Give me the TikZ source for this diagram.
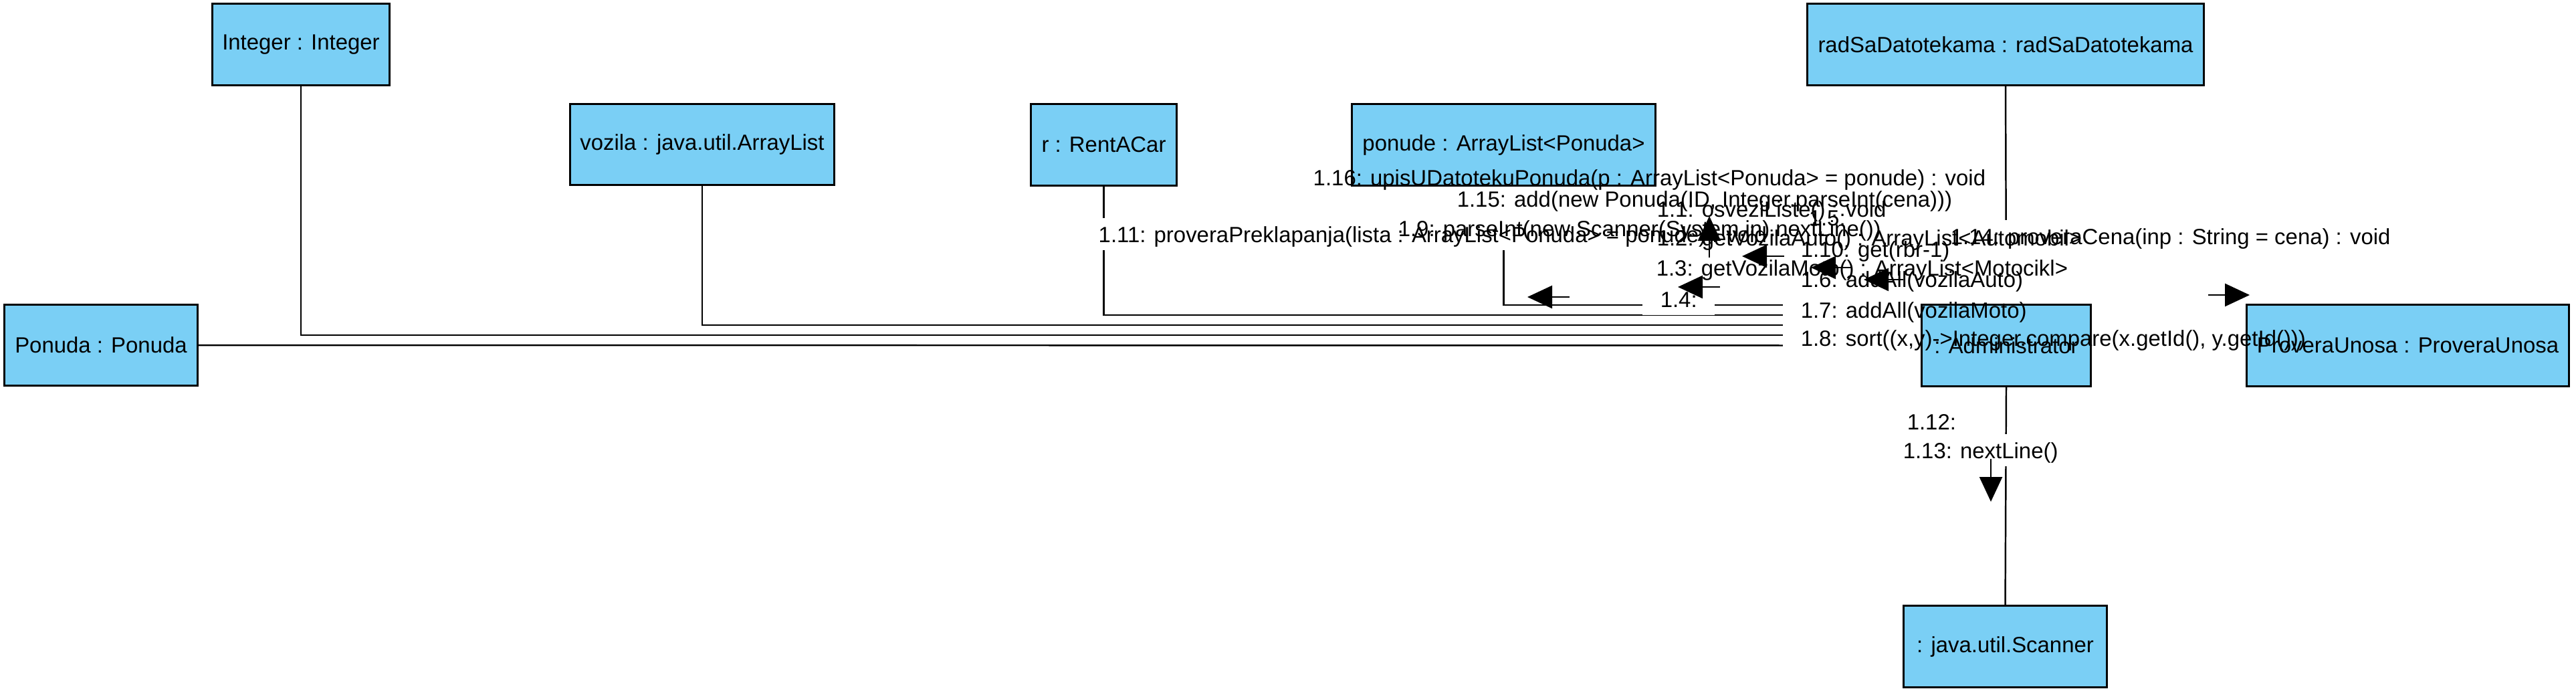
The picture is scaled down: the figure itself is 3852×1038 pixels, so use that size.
\documentclass[tikz,border=0pt]{standalone}
\usepackage{fontspec}
\setmainfont{Liberation Sans}
\usetikzlibrary{arrows.meta}
\definecolor{vpblue}{RGB}{122,207,245}
\pgfdeclarelayer{lines}
\pgfdeclarelayer{wipe}
\pgfdeclarelayer{boxes}
\pgfsetlayers{lines,wipe,boxes,main}
\begin{document}
\begin{tikzpicture}[x=0.01cm,y=-0.01cm,
  font=\fontsize{9.36pt}{11pt}\selectfont,
  obj/.style={draw=black, line width=0.85pt, fill=vpblue, inner sep=0pt, outer sep=0pt},
  link/.style={draw=black, line width=0.7pt},
  lbl/.style={anchor=west, inner xsep=0.26cm, inner ysep=0.11cm, text height=0.24cm, text depth=0cm},
  msg/.style={line width=0.7pt, -{Triangle[length=0.37cm,width=0.34cm]}}
]
\useasboundingbox (0,0) rectangle (3852,1038);

% objects
\begin{pgfonlayer}{boxes}
\node[obj, minimum width=2.64cm, minimum height=1.21cm] (int) at (450,66.5) {Integer : Integer};
\node[obj, minimum width=3.94cm, minimum height=1.20cm] (voz) at (1050,216) {vozila : java.util.ArrayList};
\node[obj, minimum width=2.17cm, minimum height=1.21cm] (rac) at (1650.5,216.5) {r : RentACar};
\node[obj, minimum width=4.53cm, minimum height=1.21cm] (pon) at (2248.5,216.5) {ponude : ArrayList<Ponuda>};
\node[obj, minimum width=5.92cm, minimum height=1.21cm] (rad) at (2999,66.5) {radSaDatotekama : radSaDatotekama};
\node[obj, minimum width=2.88cm, minimum height=1.20cm] (ponuda) at (151,516) {Ponuda : Ponuda};
\node[obj, minimum width=2.52cm, minimum height=1.21cm] (adm) at (3000,516.5) {: Administrator};
\node[obj, minimum width=4.81cm, minimum height=1.21cm] (pu) at (3600.5,516.5) {ProveraUnosa : ProveraUnosa};
\node[obj, minimum width=3.03cm, minimum height=1.21cm] (sc) at (2998.5,966.5) {: java.util.Scanner};
\end{pgfonlayer}

% links
\begin{pgfonlayer}{lines}
\draw[link] (int.south) |- (adm.west |- 0,501);
\draw[link] (voz.south) |- (adm.west |- 0,486);
\draw[link] (rac.south) |- (adm.west |- 0,471);
\draw[link] (pon.south) |- (adm.north west);
\draw[link] (ponuda.east) -- (adm.west);
\draw[link] (rad.south) -- (adm.north);
\draw[link] (adm.south) -- (sc.north);
\draw[link] (adm.east) -- (pu.west);
\end{pgfonlayer}

% message labels
\node[lbl] (l16) at (1937,265) {1.16: upisUDatotekuPonuda(p : ArrayList<Ponuda> = ponude) : void};
\node[lbl] (l15) at (2152,297) {1.15: add(new Ponuda(ID, Integer.parseInt(cena)))};
\node[lbl] (l1)  at (2451,312) {1.1: osveziListe() : void};
\node[lbl] (l5)  at (2678,325) {1.5:};
\node[lbl] (l9)  at (2064,341) {1.9: parseInt(new Scanner(System.in).nextLine())};
\node[lbl] (l11) at (1616,350) {1.11: proveraPreklapanja(lista : ArrayList<Ponuda> = ponude) : void};
\node[lbl] (l2)  at (2451,355) {1.2: getVozilaAuto() : ArrayList<Automobil>};
\node[lbl] (l14) at (2890,353) {1.14: proveraCena(inp : String = cena) : void};
\node[lbl] (l10) at (2666,372) {1.10: get(rbr-1)};
\node[lbl] (l3)  at (2450,400) {1.3: getVozilaMoto() : ArrayList<Motocikl>};
\node[lbl] (l6)  at (2666,417) {1.6: addAll(vozilaAuto)};
\node[lbl] (l4)  at (2456,447) {1.4:};
\node[lbl] (l7)  at (2666,463) {1.7: addAll(vozilaMoto)};
\node[lbl] (l8)  at (2666,505) {1.8: sort((x,y)->Integer.compare(x.getId(), y.getId()))};
\node[lbl] (l12) at (2825,630) {1.12:};
\node[lbl] (l13) at (2819,673) {1.13: nextLine()};

\begin{pgfonlayer}{wipe}
\foreach \n in {l16,l15,l1,l5,l9,l11,l2,l14,l10,l3,l6,l4,l7,l8,l12,l13}
  \fill[white] (\n.south west) rectangle (\n.north east);
\end{pgfonlayer}

% message arrows
\coordinate (a1t) at (2556,385); \coordinate (a1h) at (2556,323);
\coordinate (a2t) at (2668,383); \coordinate (a2h) at (2605,383);
\coordinate (a3t) at (2770,400); \coordinate (a3h) at (2708,400);
\coordinate (a4t) at (2846,418); \coordinate (a4h) at (2787,418);
\coordinate (a5t) at (2572,429); \coordinate (a5h) at (2509,429);
\coordinate (a6t) at (2347,444); \coordinate (a6h) at (2284,444);
\coordinate (a7t) at (3302,441); \coordinate (a7h) at (3364,441);
\coordinate (a8t) at (2977,686); \coordinate (a8h) at (2977,750);
\foreach \a in {a1,a2,a3,a4,a5,a6,a7,a8}
  \draw[msg] (\a t) -- (\a h);
\end{tikzpicture}
\end{document}
